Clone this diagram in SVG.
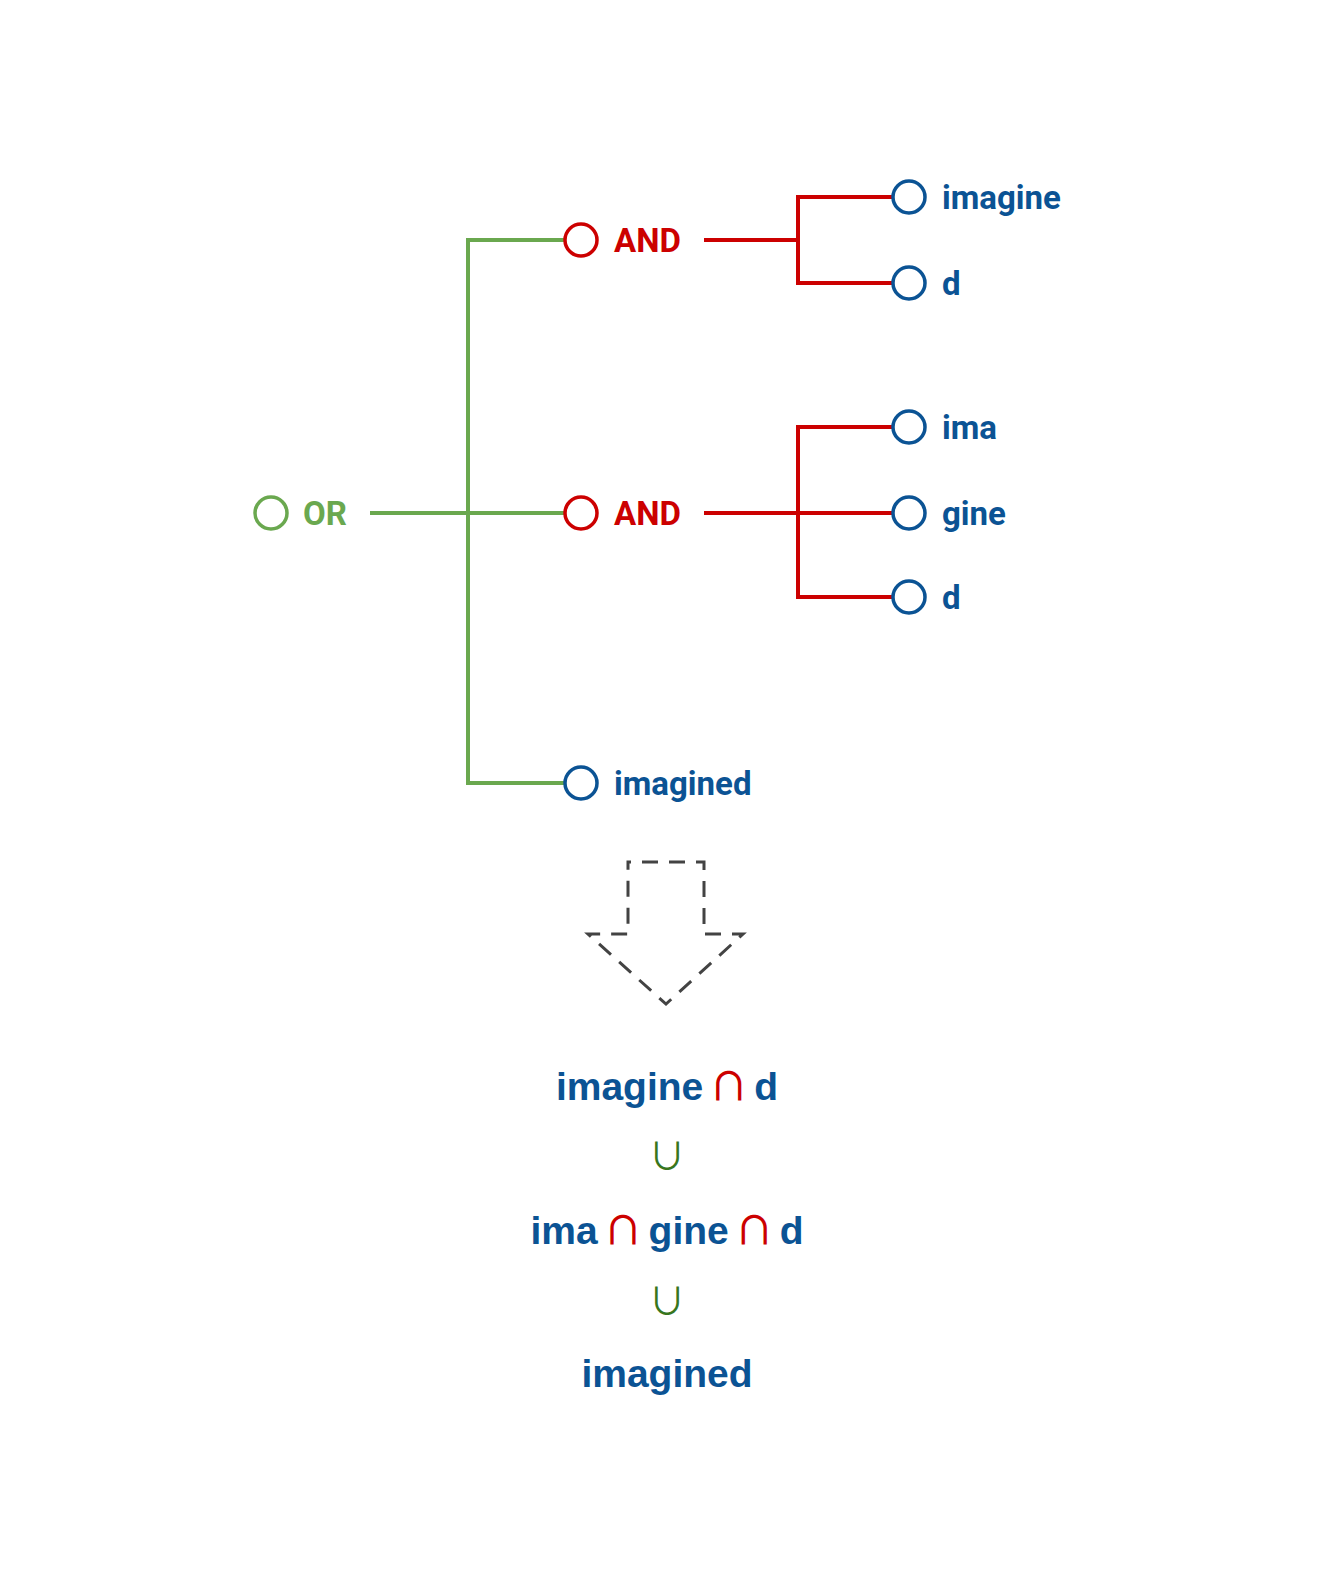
<svg xmlns="http://www.w3.org/2000/svg" width="1333" height="1579" viewBox="0 0 1333 1579">
<style>
.node-circle { fill: none; stroke-width: 3.5; }
.lbl { font-family: Roboto, "Liberation Sans", sans-serif; font-weight: bold; font-size: 33px; }
.g { stroke: #6aa84f; }
.r { stroke: #cc0000; }
.b { stroke: #0b5394; }
.conn { fill: none; stroke-width: 4; }
.res { font-family: "Liberation Sans", Arial, sans-serif; font-weight: bold; font-size: 39px; fill: #0b5394; text-anchor: middle; }
.cap { fill: #cc0000; font-family: "Noto Sans CJK JP", "DejaVu Sans", sans-serif; font-weight: 500; }
.cup { font-family: "Noto Sans CJK JP", "DejaVu Sans", sans-serif; font-size: 37px; fill: #38761d; text-anchor: middle; }
</style>
<rect width="1333" height="1579" fill="#ffffff"/>
<g id="connectors">
  <path class="conn g" d="M370 513 H564 M564 240 H468 V783 H564"/>
  <path class="conn r" d="M704 240 H798 M892 197 H798 V283 H892"/>
  <path class="conn r" d="M704 513 H892 M892 427 H798 V597 H892"/>
</g>
<g id="node-or">
  <circle class="node-circle g" cx="271" cy="513" r="16"/>
  <text class="lbl" x="303" y="525" fill="#6aa84f">OR</text>
</g>
<g id="node-and1">
  <circle class="node-circle r" cx="581" cy="240" r="16"/>
  <text class="lbl" x="614" y="252" fill="#cc0000">AND</text>
</g>
<g id="node-and2">
  <circle class="node-circle r" cx="581" cy="513" r="16"/>
  <text class="lbl" x="614" y="525" fill="#cc0000">AND</text>
</g>
<g id="node-imagined">
  <circle class="node-circle b" cx="581" cy="783" r="16"/>
  <text class="lbl" x="614" y="795" fill="#0b5394">imagined</text>
</g>
<g id="node-imagine">
  <circle class="node-circle b" cx="909" cy="197" r="16"/>
  <text class="lbl" x="942" y="209" fill="#0b5394">imagine</text>
</g>
<g id="node-d1">
  <circle class="node-circle b" cx="909" cy="283" r="16"/>
  <text class="lbl" x="942" y="295" fill="#0b5394">d</text>
</g>
<g id="node-ima">
  <circle class="node-circle b" cx="909" cy="427" r="16"/>
  <text class="lbl" x="942" y="439" fill="#0b5394">ima</text>
</g>
<g id="node-gine">
  <circle class="node-circle b" cx="909" cy="513" r="16"/>
  <text class="lbl" x="942" y="525" fill="#0b5394">gine</text>
</g>
<g id="node-d2">
  <circle class="node-circle b" cx="909" cy="597" r="16"/>
  <text class="lbl" x="942" y="609" fill="#0b5394">d</text>
</g>
<g id="arrow">
  <path d="M628 862 H704 V934 H743 L666 1004 L588 934 H628 Z" fill="none" stroke="#434343" stroke-width="3" stroke-dasharray="16 11" stroke-dashoffset="13"/>
</g>
<g id="result">
  <text class="res" x="667" y="1100">imagine<tspan class="cap" dx="6">∩</tspan><tspan dx="6">d</tspan></text>
  <text class="cup" x="667" y="1170">∪</text>
  <text class="res" x="667" y="1244">ima<tspan class="cap" dx="6">∩</tspan><tspan dx="6">gine</tspan><tspan class="cap" dx="6">∩</tspan><tspan dx="6">d</tspan></text>
  <text class="cup" x="667" y="1315">∪</text>
  <text class="res" x="667" y="1387">imagined</text>
</g>
</svg>
